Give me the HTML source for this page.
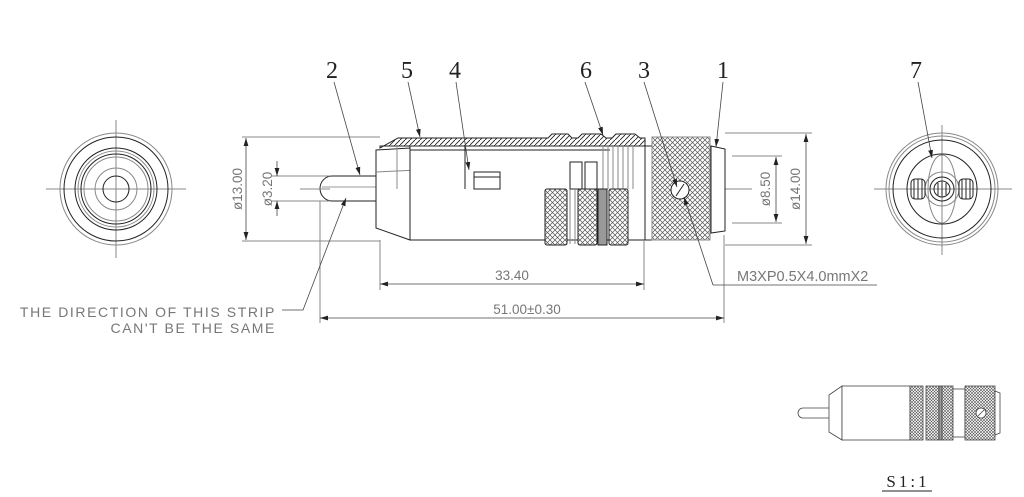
<!DOCTYPE html>
<html><head><meta charset="utf-8"><style>
html,body{margin:0;padding:0;background:#fff;width:1024px;height:497px;overflow:hidden}
svg{display:block}
.t{font-family:"Liberation Sans",sans-serif;fill:#777;font-size:13.5px}
.n{font-family:"Liberation Serif",serif;fill:#222;font-size:24px}
</style></head><body>
<svg width="1024" height="497" viewBox="0 0 1024 497" xmlns="http://www.w3.org/2000/svg">
<defs>
<pattern id="knurl" width="5" height="5" patternUnits="userSpaceOnUse">
<rect width="5" height="5" fill="#fff"/>
<path d="M0 0L5 5M5 0L0 5" stroke="#555" stroke-width="0.7"/>
</pattern>
<pattern id="knurl2" width="3" height="3" patternUnits="userSpaceOnUse">
<rect width="3" height="3" fill="#fff"/>
<path d="M0 0L3 3M3 0L0 3" stroke="#555" stroke-width="0.6"/>
</pattern>
<pattern id="hatch" width="5" height="5" patternUnits="userSpaceOnUse">
<rect width="5" height="5" fill="#fff"/>
<path d="M0 5L5 0" stroke="#222" stroke-width="0.9"/>
</pattern>
<marker id="ar" viewBox="0 0 10 10" refX="10" refY="5" markerWidth="8" markerHeight="8" orient="auto-start-reverse" markerUnits="userSpaceOnUse"><path d="M0 2L10 5L0 8z" fill="#222"/></marker>
</defs>

<g fill="none" stroke="#222">
<line x1="116" y1="120" x2="116" y2="258" stroke="#888"/>
<line x1="46" y1="189" x2="186" y2="189" stroke="#888"/>
<circle cx="116" cy="189" r="56" stroke="#888"/>
<circle cx="116" cy="189" r="52"/>
<circle cx="116" cy="189" r="41"/>
<circle cx="116" cy="189" r="38" stroke="#888"/>
<circle cx="116" cy="189" r="35"/>
<circle cx="116" cy="189" r="32" stroke="#888"/>
<circle cx="116" cy="189" r="21" stroke="#888"/>
<circle cx="116" cy="189" r="13"/>
</g>

<g fill="none" stroke="#222">
<line x1="942" y1="125" x2="942" y2="255" stroke="#888"/>
<line x1="874" y1="189" x2="1012" y2="189" stroke="#888"/>
<circle cx="942" cy="189" r="56" stroke="#888"/>
<circle cx="942" cy="189" r="53" stroke="#888"/>
<circle cx="942" cy="189" r="49"/>
<circle cx="942" cy="189" r="35"/>
<ellipse cx="942" cy="189" rx="14" ry="34" stroke="#888"/>
<circle cx="942" cy="189" r="17" stroke="#888"/>
<circle cx="942" cy="189" r="12"/>
<circle cx="942" cy="189" r="8"/>
<rect x="911" y="179" width="14" height="20" rx="4"/>
<rect x="959" y="179" width="14" height="20" rx="4"/>
<path d="M914 179v20M918 179v20M922 179v20M962 179v20M966 179v20M970 179v20M938 183v12M942 182v14M946 183v12"/>
</g>

<line x1="300" y1="189" x2="745" y2="189" stroke="#888" stroke-dasharray="22,6"/>

<path d="M376 176H332a12 12.5 0 0 0 0 25H376" fill="#fff" stroke="#222"/>
<line x1="322" y1="187" x2="376" y2="187" stroke="#999"/>

<path d="M380 148L398 138H548L552 134H568L572 138H578L582 134H601L606 138H612L616 134H635L640 138H645V146H380Z" fill="url(#hatch)" stroke="#222"/>
<path d="M376 150L410 148V240L376 228Z" fill="#fff" stroke="#222"/>
<line x1="376" y1="172" x2="418" y2="170" stroke="#888"/>
<path d="M410 146H645V240H410Z" fill="#fff" stroke="#222"/>
<line x1="410" y1="150" x2="610" y2="150" stroke="#222"/>
<line x1="465" y1="146" x2="465" y2="189" stroke="#222"/>
<line x1="397" y1="146" x2="397" y2="189" stroke="#888"/>
<rect x="474" y="172" width="26" height="17" fill="#fff" stroke="#222"/>
<line x1="474" y1="177" x2="500" y2="177" stroke="#222"/>
<rect x="570" y="162" width="12" height="27" fill="#fff" stroke="#222"/>
<rect x="585" y="162" width="12" height="27" fill="#fff" stroke="#222"/>
<path d="M603 146V189M608 146V189M613 146V189M618 146V189M623 146V189M628 146V189M633 146V189" stroke="#888"/>
<rect x="545" y="189" width="22" height="56" rx="2" fill="url(#knurl)" stroke="#222"/>
<rect x="578" y="189" width="19" height="56" rx="2" fill="url(#knurl)" stroke="#222"/>
<rect x="598" y="189" width="9" height="56" fill="#999" stroke="#222"/>
<rect x="609" y="189" width="19" height="56" rx="2" fill="url(#knurl)" stroke="#222"/>
<line x1="570" y1="189" x2="570" y2="244" stroke="#888"/>
<line x1="575" y1="189" x2="575" y2="244" stroke="#888"/>
<rect x="645" y="146" width="8" height="94" fill="#fff" stroke="#222"/>
<rect x="652" y="137" width="58" height="103" fill="url(#knurl)" stroke="#888"/>
<path d="M711 146L725 149V231L711 233Z" fill="#fff" stroke="#222"/>
<circle cx="680" cy="190" r="9" fill="#fff" stroke="#222"/>
<line x1="676" y1="196" x2="684" y2="184" stroke="#222"/>

<g stroke="#888" fill="none">
<line x1="242" y1="137" x2="380" y2="137"/>
<line x1="242" y1="241" x2="380" y2="241"/>
<line x1="272" y1="176" x2="330" y2="176"/>
<line x1="272" y1="201" x2="330" y2="201"/>
<line x1="302" y1="189" x2="330" y2="189"/>
<line x1="320" y1="201" x2="320" y2="323"/>
<line x1="380" y1="240" x2="380" y2="290"/>
<line x1="644" y1="240" x2="644" y2="290"/>
<line x1="724" y1="235" x2="724" y2="323"/>
<line x1="725" y1="133" x2="812" y2="133"/>
<line x1="725" y1="245" x2="812" y2="245"/>
<line x1="732" y1="156" x2="782" y2="156"/>
<line x1="732" y1="223" x2="782" y2="223"/>
<line x1="738" y1="189" x2="752" y2="189"/>
</g>
<g stroke="#444" fill="none" stroke-width="0.8">
<line x1="246" y1="138" x2="246" y2="240" marker-start="url(#ar)" marker-end="url(#ar)"/>
<line x1="277" y1="161" x2="277" y2="176" marker-end="url(#ar)"/>
<line x1="277" y1="216" x2="277" y2="201" marker-end="url(#ar)"/>
<line x1="776" y1="157" x2="776" y2="222" marker-start="url(#ar)" marker-end="url(#ar)"/>
<line x1="806" y1="134" x2="806" y2="244" marker-start="url(#ar)" marker-end="url(#ar)"/>
<line x1="380" y1="284" x2="644" y2="284" marker-start="url(#ar)" marker-end="url(#ar)"/>
<line x1="320" y1="318" x2="724" y2="318" marker-start="url(#ar)" marker-end="url(#ar)"/>
</g>
<text class="t" transform="translate(242,189) rotate(-90)" text-anchor="middle">ø13.00</text>
<text class="t" transform="translate(272,189) rotate(-90)" text-anchor="middle">ø3.20</text>
<text class="t" transform="translate(770,189) rotate(-90)" text-anchor="middle">ø8.50</text>
<text class="t" transform="translate(800,189) rotate(-90)" text-anchor="middle">ø14.00</text>
<text class="t" x="512" y="280" text-anchor="middle">33.40</text>
<text class="t" x="527" y="314" text-anchor="middle">51.00±0.30</text>
<text class="t" x="737" y="281" style="font-size:14.5px">M3XP0.5X4.0mmX2</text>
<text class="t" x="276" y="317" text-anchor="end" style="font-size:14px" letter-spacing="1.6">THE DIRECTION OF THIS STRIP</text>
<text class="t" x="276" y="333" text-anchor="end" style="font-size:14px" letter-spacing="1.6">CAN'T BE THE SAME</text>

<g stroke="#444" stroke-width="0.8" fill="none">
<line x1="334" y1="82" x2="360" y2="175" marker-end="url(#ar)"/>
<line x1="408" y1="82" x2="420" y2="137" marker-end="url(#ar)"/>
<line x1="456" y1="82" x2="469" y2="170" marker-end="url(#ar)"/>
<line x1="585" y1="82" x2="603" y2="135" marker-end="url(#ar)"/>
<line x1="644" y1="82" x2="677" y2="187" marker-end="url(#ar)"/>
<line x1="723" y1="82" x2="716" y2="147" marker-end="url(#ar)"/>
<line x1="918" y1="82" x2="932" y2="158" marker-end="url(#ar)"/>
<polyline points="713,285 684,197" marker-end="url(#ar)"/>
<line x1="713" y1="285" x2="877" y2="285"/>
<polyline points="282,310 303,310 346,198" marker-end="url(#ar)"/>
</g>
<text class="n" x="332" y="78" text-anchor="middle">2</text>
<text class="n" x="407" y="78" text-anchor="middle">5</text>
<text class="n" x="455" y="78" text-anchor="middle">4</text>
<text class="n" x="586" y="78" text-anchor="middle">6</text>
<text class="n" x="644" y="78" text-anchor="middle">3</text>
<text class="n" x="723" y="78" text-anchor="middle">1</text>
<text class="n" x="916" y="78" text-anchor="middle">7</text>

<g stroke="#444" stroke-width="0.8">
<path d="M829 408H803a5 5 0 0 0 0 10H829" fill="#fff"/>
<path d="M829 395L842 386V440L829 432Z" fill="#fff"/>
<rect x="842" y="386" width="68" height="54" fill="#fff"/>
<rect x="910" y="386" width="13" height="54" fill="url(#knurl2)"/>
<rect x="926" y="386" width="13" height="54" fill="url(#knurl2)"/>
<rect x="939" y="386" width="3" height="54" fill="#999"/>
<rect x="942" y="386" width="11" height="54" fill="url(#knurl2)"/>
<rect x="953" y="389" width="12" height="48" fill="#fff"/>
<rect x="965" y="386" width="30" height="54" fill="url(#knurl2)"/>
<path d="M995 391L1000 393V433L995 435Z" fill="#fff"/>
<circle cx="981" cy="413" r="5" fill="#fff"/>
<line x1="978" y1="416" x2="984" y2="410"/>
</g>
<text x="908" y="487" text-anchor="middle" font-family="Liberation Serif,serif" font-size="17" fill="#222" letter-spacing="3">S1:1</text>
<line x1="882" y1="491" x2="932" y2="491" stroke="#222"/>
</svg>
</body></html>
